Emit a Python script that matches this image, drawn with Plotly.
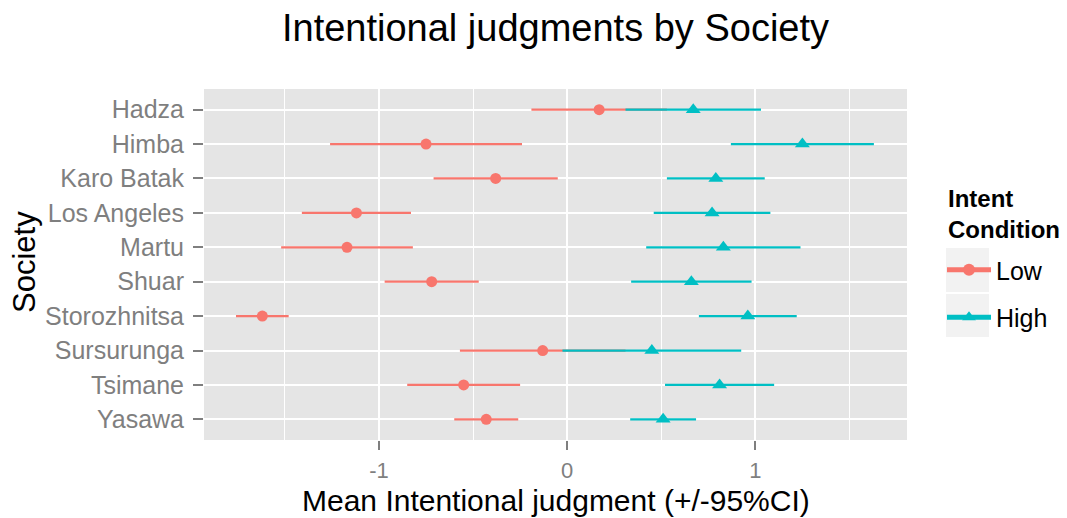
import plotly.graph_objects as go

societies = ["Hadza", "Himba", "Karo Batak", "Los Angeles", "Martu", "Shuar",
             "Storozhnitsa", "Sursurunga", "Tsimane", "Yasawa"]
low_mean = [0.17, -0.75, -0.38, -1.12, -1.17, -0.72, -1.62, -0.13, -0.55, -0.43]
low_ci = [0.36, 0.51, 0.33, 0.29, 0.35, 0.25, 0.14, 0.44, 0.30, 0.17]
high_mean = [0.67, 1.25, 0.79, 0.77, 0.83, 0.66, 0.96, 0.45, 0.81, 0.51]
high_ci = [0.36, 0.38, 0.26, 0.31, 0.41, 0.32, 0.26, 0.475, 0.29, 0.175]
conditions = ["Low", "High"]
colors = {"Low": "#F8766D", "High": "#00BFC4"}
symbols = {"Low": "circle", "High": "triangle-up"}
sizes = {"Low": 11, "High": 13}

FONT = "Liberation Sans, Arial, sans-serif"

W, H = 1067, 518
L, R, T, B = 204, 160, 89, 78
PW, PH = W - L - R, H - T - B


def px(sx):  # screen x -> paper x
    return (sx - L) / PW


def py(sy):  # screen y -> paper y
    return (H - B - sy) / PH


fig = go.Figure()
series = {"Low": (low_mean, low_ci), "High": (high_mean, high_ci)}
for c in conditions:
    m, ci = series[c]
    fig.add_trace(go.Scatter(
        x=m, y=societies, mode="markers", showlegend=False,
        marker=dict(color=colors[c], symbol=symbols[c], size=sizes[c], line=dict(width=0)),
        error_x=dict(type="data", array=ci, symmetric=True, color=colors[c], thickness=2.2, width=0),
    ))
for c in conditions:
    fig.add_trace(go.Scatter(
        x=[None], y=[None], mode="lines+markers", name=c, legendgroup=c,
        line=dict(color=colors[c], width=2.2),
        marker=dict(color=colors[c], symbol=symbols[c], size=sizes[c], line=dict(width=0)),
    ))

# legend key backgrounds
for (y0, y1) in [(248, 292), (294, 337)]:
    fig.add_shape(type="rect", xref="paper", yref="paper",
                  x0=px(946), x1=px(989), y0=py(y1), y1=py(y0),
                  fillcolor="#F2F2F2", line=dict(width=0), layer="below")

fig.add_annotation(text="<b>Intent<br>Condition</b>", xref="paper", yref="paper",
                   x=px(946), y=py(214), xanchor="left", yanchor="middle", align="left",
                   showarrow=False, font=dict(size=24, color="black", family=FONT))
fig.add_annotation(text="Mean Intentional judgment (+/-95%CI)", xref="paper", yref="paper",
                   x=0.5, y=py(500), xanchor="center", yanchor="middle",
                   showarrow=False, font=dict(size=30, color="black", family=FONT))
fig.add_annotation(text="Society", xref="paper", yref="paper", textangle=-90,
                   x=px(24), y=py(262), xanchor="center", yanchor="middle",
                   showarrow=False, font=dict(size=31, color="black", family=FONT))

fig.update_layout(
    width=W, height=H,
    margin=dict(l=L, r=R, t=T, b=B, autoexpand=False),
    paper_bgcolor="white", plot_bgcolor="#E5E5E5",
    font=dict(family=FONT, color="black"),
    title=dict(text="Intentional judgments by Society", x=0.5, xref="paper",
               y=1 - 28 / H, yref="container", yanchor="middle",
               font=dict(size=38, family=FONT, color="black")),
    xaxis=dict(range=[-1.93, 1.806], tickvals=[-1, 0, 1], ticktext=["-1", "0", "1"],
               showgrid=True, gridcolor="white", gridwidth=2.2,
               minor=dict(tickvals=[-1.5, -0.5, 0.5, 1.5], showgrid=True, gridcolor="white", gridwidth=1.1, ticks=""),
               ticks="outside", ticklen=9, tickwidth=2, tickcolor="#7F7F7F",
               ticklabelstandoff=2,
               tickfont=dict(size=22, color="#7F7F7F", family=FONT),
               zeroline=False, showline=False, automargin=False),
    yaxis=dict(type="category", categoryorder="array", categoryarray=societies,
               range=[9.6, -0.6],
               showgrid=True, gridcolor="white", gridwidth=2.2,
               ticks="outside", ticklen=10, tickwidth=2, tickcolor="#7F7F7F",
               ticklabelstandoff=4,
               tickfont=dict(size=25, color="#7F7F7F", family=FONT),
               zeroline=False, showline=False, automargin=False),
    legend=dict(x=px(942), xanchor="left", y=py(247), yanchor="top",
                font=dict(size=25, color="black", family=FONT), itemwidth=44,
                tracegroupgap=12, bgcolor="rgba(0,0,0,0)", itemsizing="constant"),
)
fig.write_html("out.html", config={"displayModeBar": False},
               post_script="document.body.style.margin='0px';document.body.style.overflow='hidden';")
